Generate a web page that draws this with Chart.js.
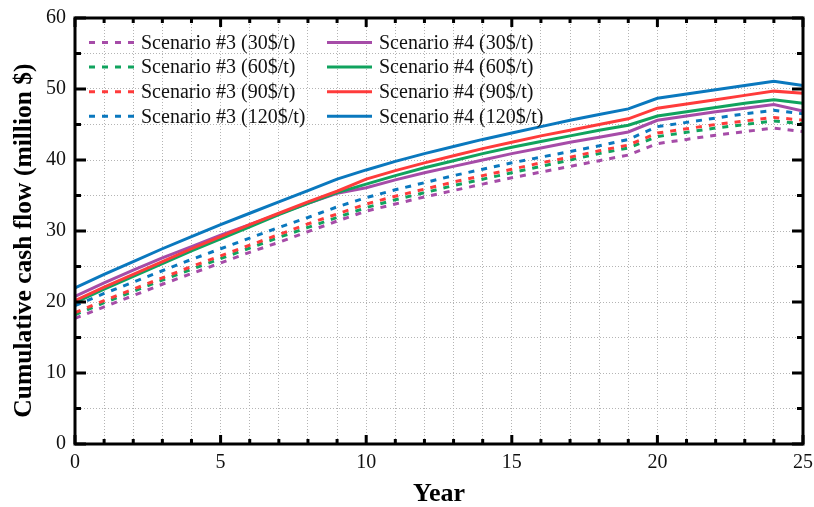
<!DOCTYPE html>
<html>
<head>
<meta charset="utf-8">
<script src="https://cdn.jsdelivr.net/npm/chart.js@4.4.0/dist/chart.umd.min.js"></script>
<style>
  body { margin: 0; background: #fff; }
  #wrap { width: 814px; height: 507px; }
</style>
</head>
<body>
<div id="wrap"><canvas id="myChart" width="814" height="507"></canvas></div>
<script>
// 年（横軸）
const years = [0, 1, 2, 3, 4, 5, 6, 7, 8, 9, 10, 11, 12, 13, 14, 15, 16, 17, 18, 19, 20, 21, 22, 23, 24, 25];
const xTickLabels = [0, 5, 10, 15, 20, 25];
const yTickLabels = [0, 10, 20, 30, 40, 50, 60];

// Scenario #3（破線）
const s3_30 = [17.7, 19.3, 20.9, 22.5, 24.0, 25.5, 27.0, 28.4, 29.9, 31.4, 32.8, 33.8, 34.8, 35.7, 36.6, 37.5, 38.3, 39.1, 39.9, 40.7, 42.3, 42.9, 43.5, 44.0, 44.5, 44.0];
const s3_60 = [18.2, 19.9, 21.5, 23.1, 24.6, 26.1, 27.6, 29.1, 30.5, 31.9, 33.3, 34.4, 35.4, 36.4, 37.3, 38.2, 39.1, 40.0, 40.9, 41.7, 43.3, 43.9, 44.5, 45.0, 45.5, 45.1];
const s3_90 = [18.5, 20.2, 21.8, 23.4, 25.0, 26.5, 28.0, 29.5, 31.0, 32.4, 33.8, 34.9, 35.9, 36.9, 37.8, 38.7, 39.6, 40.4, 41.3, 42.1, 43.8, 44.4, 45.0, 45.5, 46.0, 45.6];
const s3_120 = [19.5, 21.2, 22.8, 24.4, 26.0, 27.5, 29.0, 30.5, 31.9, 33.4, 34.7, 35.8, 36.8, 37.8, 38.7, 39.6, 40.4, 41.2, 42.0, 42.9, 44.7, 45.3, 45.9, 46.5, 47.0, 46.5];

// Scenario #4（実線）
const s4_30 = [20.8, 22.7, 24.5, 26.2, 27.8, 29.4, 30.9, 32.4, 33.9, 35.3, 36.1, 37.2, 38.2, 39.1, 40.0, 40.9, 41.7, 42.5, 43.2, 43.95, 45.6, 46.2, 46.8, 47.3, 47.8, 46.9];
const s4_60 = [19.9, 21.8, 23.6, 25.4, 27.2, 28.9, 30.6, 32.3, 33.9, 35.4, 36.6, 37.8, 38.9, 39.9, 40.9, 41.8, 42.6, 43.4, 44.2, 44.9, 46.2, 46.8, 47.4, 48.0, 48.5, 48.0];
const s4_90 = [20.2, 22.1, 23.9, 25.7, 27.5, 29.2, 30.9, 32.5, 34.1, 35.6, 37.3, 38.5, 39.6, 40.6, 41.6, 42.5, 43.4, 44.2, 45.0, 45.8, 47.3, 47.9, 48.5, 49.1, 49.7, 49.4];
const s4_120 = [22.0, 23.9, 25.7, 27.5, 29.2, 30.9, 32.5, 34.1, 35.7, 37.3, 38.6, 39.8, 40.9, 41.9, 42.9, 43.8, 44.7, 45.6, 46.4, 47.2, 48.7, 49.3, 49.9, 50.5, 51.1, 50.5];

const PURPLE = "#A64CA8";
const GREEN = "#10A35E";
const RED = "#FF3B3B";
const BLUE = "#0A78BE";
const FONT = "'Liberation Serif', 'Times New Roman', serif";
const DASH = [6, 7];

function toPoints(values) {
  return years.map((x, i) => ({ x: x, y: values[i] }));
}

function makeSet(label, values, color, dashed, idx) {
  return {
    label: label,
    data: toPoints(values),
    borderColor: color,
    backgroundColor: color,
    borderWidth: 3,
    borderDash: dashed ? DASH : [],
    borderCapStyle: "butt",
    pointRadius: 0,
    tension: 0,
    fill: false,
    order: 10 - idx,
  };
}

const datasets = [
  makeSet("Scenario #3 (30$/t)", s3_30, PURPLE, true, 0),
  makeSet("Scenario #3 (60$/t)", s3_60, GREEN, true, 1),
  makeSet("Scenario #3 (90$/t)", s3_90, RED, true, 2),
  makeSet("Scenario #3 (120$/t)", s3_120, BLUE, true, 3),
  makeSet("Scenario #4 (30$/t)", s4_30, PURPLE, false, 4),
  makeSet("Scenario #4 (60$/t)", s4_60, GREEN, false, 5),
  makeSet("Scenario #4 (90$/t)", s4_90, RED, false, 6),
  makeSet("Scenario #4 (120$/t)", s4_120, BLUE, false, 7),
];

// 枠と内向きの目盛り
const framePlugin = {
  id: "frame",
  afterDatasetsDraw(chart) {
    const { ctx, chartArea: a, scales } = chart;
    const x = scales.x, y = scales.y;
    ctx.save();
    ctx.strokeStyle = "#000";
    ctx.lineWidth = 3;
    ctx.setLineDash([]);
    ctx.strokeRect(a.left, a.top, a.right - a.left, a.bottom - a.top);
    ctx.beginPath();
    years.forEach((v) => {
      const px = x.getPixelForValue(v);
      const len = xTickLabels.includes(v) ? 9 : 5;
      ctx.moveTo(px, a.bottom); ctx.lineTo(px, a.bottom - len);
      ctx.moveTo(px, a.top); ctx.lineTo(px, a.top + len);
    });
    for (let v = 0; v <= 60; v += 5) {
      const py = y.getPixelForValue(v);
      const len = yTickLabels.includes(v) ? 11 : 6;
      ctx.moveTo(a.left, py); ctx.lineTo(a.left + len, py);
      ctx.moveTo(a.right, py); ctx.lineTo(a.right - len, py);
    }
    ctx.stroke();
    ctx.restore();
  },
};

// 凡例（グラフ内・2列）
const legendPlugin = {
  id: "innerLegend",
  afterDraw(chart) {
    const { ctx } = chart;
    ctx.save();
    ctx.font = "20px " + FONT;
    ctx.textBaseline = "middle";
    chart.data.datasets.forEach((ds, i) => {
      const col = Math.floor(i / 4);
      const row = i % 4;
      const x0 = 89 + col * 238;
      const yy = 42.5 + row * 24.6;
      ctx.strokeStyle = ds.borderColor;
      ctx.lineWidth = 3;
      ctx.lineCap = "butt";
      ctx.setLineDash(ds.borderDash || []);
      ctx.beginPath();
      ctx.moveTo(x0, yy);
      ctx.lineTo(x0 + 45, yy);
      ctx.stroke();
      ctx.setLineDash([]);
      ctx.fillStyle = "#111";
      ctx.fillText(ds.label, x0 + 52, yy + 1);
    });
    ctx.restore();
  },
};

const ctx = document.getElementById("myChart").getContext("2d");
const chart = new Chart(ctx, {
  type: "line",
  data: { datasets: datasets },
  plugins: [framePlugin, legendPlugin],
  options: {
    responsive: false,
    animation: false,
    devicePixelRatio: 1,
    layout: { padding: { top: 18, right: 11, left: 0, bottom: 0 } },
    plugins: {
      legend: { display: false },
      tooltip: { enabled: false },
    },
    scales: {
      x: {
        type: "linear",
        min: 0,
        max: 25,
        afterFit(s) {
          s.height = 63;
          s.paddingLeft = 0;
          s.paddingRight = 0;
        },
        ticks: {
          stepSize: 1,
          autoSkip: false,
          maxRotation: 0,
          padding: 7,
          color: "#111",
          font: { family: FONT, size: 20 },
          callback: (v) => (xTickLabels.includes(v) ? v : ""),
        },
        grid: { color: "#b4b4b4", lineWidth: 1, drawTicks: false },
        border: { display: false, dash: [1, 2] },
        title: {
          display: true,
          text: "Year",
          color: "#000",
          font: { family: FONT, size: 26, weight: "bold", lineHeight: 1 },
          padding: { top: 0, bottom: 0 },
        },
      },
      y: {
        min: 0,
        max: 60,
        afterFit(s) {
          s.width = 75;
          s.paddingTop = 0;
          s.paddingBottom = 0;
        },
        ticks: {
          stepSize: 5,
          padding: 9,
          color: "#111",
          font: { family: FONT, size: 20 },
          callback: (v) => (yTickLabels.includes(v) ? v : ""),
        },
        grid: { color: "#b4b4b4", lineWidth: 1, drawTicks: false },
        border: { display: false, dash: [1, 2] },
        title: {
          display: true,
          text: "Cumulative cash flow (million $)   ",
          color: "#000",
          font: { family: FONT, size: 25.5, weight: "bold", lineHeight: 1 },
          padding: { top: 12, bottom: 0 },
        },
      },
    },
  },
});
</script>
</body>
</html>
